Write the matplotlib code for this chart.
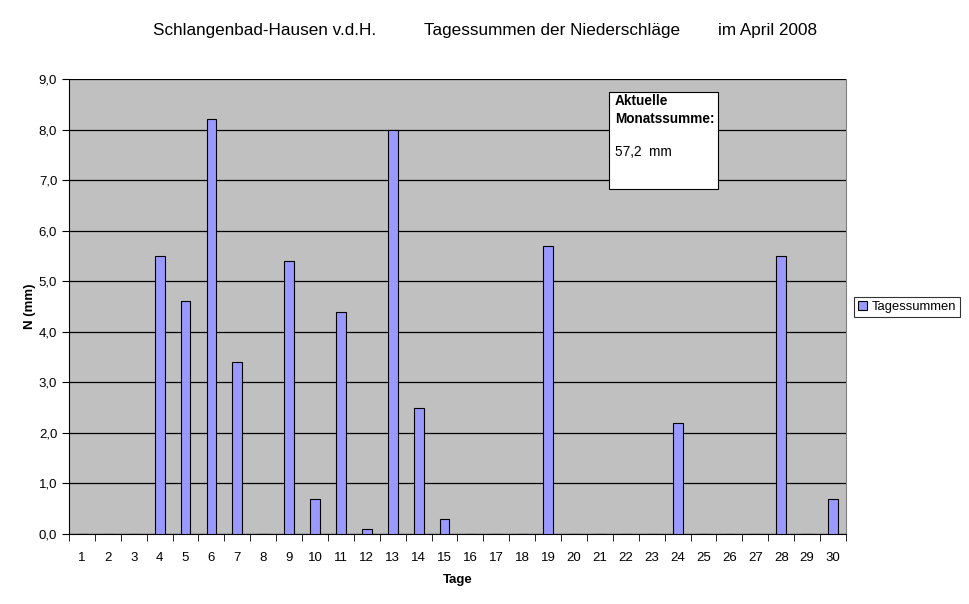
import matplotlib.pyplot as plt
import numpy as np

plt.rcParams['font.family'] = ['Liberation Sans', 'DejaVu Sans']

# Tagessummen April 2008 (mm)
tage = list(range(1, 31))
regen = [0, 0, 0, 5.5, 4.6, 8.2, 3.4, 0, 5.4, 0.7,
         4.4, 0.1, 8.0, 2.5, 0.3, 0, 0, 0, 5.7, 0,
         0, 0, 0, 2.2, 0, 0, 0, 5.5, 0, 0.7]
yticks = np.arange(0, 9.1, 1.0)
ylabels = ["%.1f" % v for v in yticks]
ylabels = [s.replace(".", ",") for s in ylabels]

fig = plt.figure(figsize=(9.7, 6.04), dpi=100)
ax = fig.add_axes([69/970, 1-534/604, (846-69)/970, (534-79)/604])
ax.set_facecolor("#C0C0C0")

x = np.arange(len(tage))
ax.bar(x, regen, width=0.38, color="#9999FF", edgecolor="black", linewidth=0.8,
       label="Tagessummen", zorder=3)

ax.set_xlim(-0.5, len(tage) - 0.5)
ax.set_ylim(0, 9)
ax.set_yticks(yticks)
ax.set_yticklabels(ylabels, fontsize=9.5)
ax.set_xticks(x)
ax.set_xticklabels([str(t) for t in tage], fontsize=9.5)
ax.tick_params(axis='x', length=0, pad=13)
ax.set_xticks(np.arange(-0.5, len(tage)), minor=True)
ax.tick_params(axis='x', which='minor', length=5, direction='out')
ax.tick_params(axis='y', length=5, direction='out')
ax.grid(axis='y', color='black', linewidth=0.9, zorder=1)

ax.spines['top'].set_visible(False)
ax.spines['right'].set_color('#808080')
ax.spines['left'].set_color('black')
ax.spines['bottom'].set_color('black')

ax.set_xlabel("Tage", fontsize=9.5, fontweight='bold', labelpad=7)
ax.set_ylabel("N (mm)", fontsize=9.5, fontweight='bold', labelpad=2)

fig.text(265/970, 1-31/604, "Schlangenbad-Hausen v.d.H.", ha='center', va='center', fontsize=12.3)
fig.text(552/970, 1-31/604, "Tagessummen der Niederschläge", ha='center', va='center', fontsize=12.3)
fig.text(768/970, 1-31/604, "im April 2008", ha='center', va='center', fontsize=12.3)

# Monatssumme box
summe = sum(regen)
box = plt.Rectangle((609/970, 1-189/604), (718-609)/970, (189-92)/604,
                    transform=fig.transFigure, facecolor='white', edgecolor='black',
                    linewidth=0.8, zorder=5)
fig.add_artist(box)
fig.text(615/970, 1-101/604, "Aktuelle", fontsize=9.8, fontweight='bold', va='center', zorder=6)
fig.text(615/970, 1-119/604, "Monatssumme:", fontsize=9.8, fontweight='bold', va='center', zorder=6)
fig.text(615/970, 1-152/604, ("%.1f  mm" % summe).replace(".", ","), fontsize=9.8, va='center', zorder=6)

leg = fig.legend(loc='center', bbox_to_anchor=(907/970, 1-307/604), fontsize=9.4,
                 frameon=True, fancybox=False, edgecolor='black', handlelength=0.7,
                 handleheight=0.7, handletextpad=0.3, borderpad=0.3, borderaxespad=0)
leg.get_frame().set_linewidth(0.8)

fig.savefig("out.png", dpi=100)
